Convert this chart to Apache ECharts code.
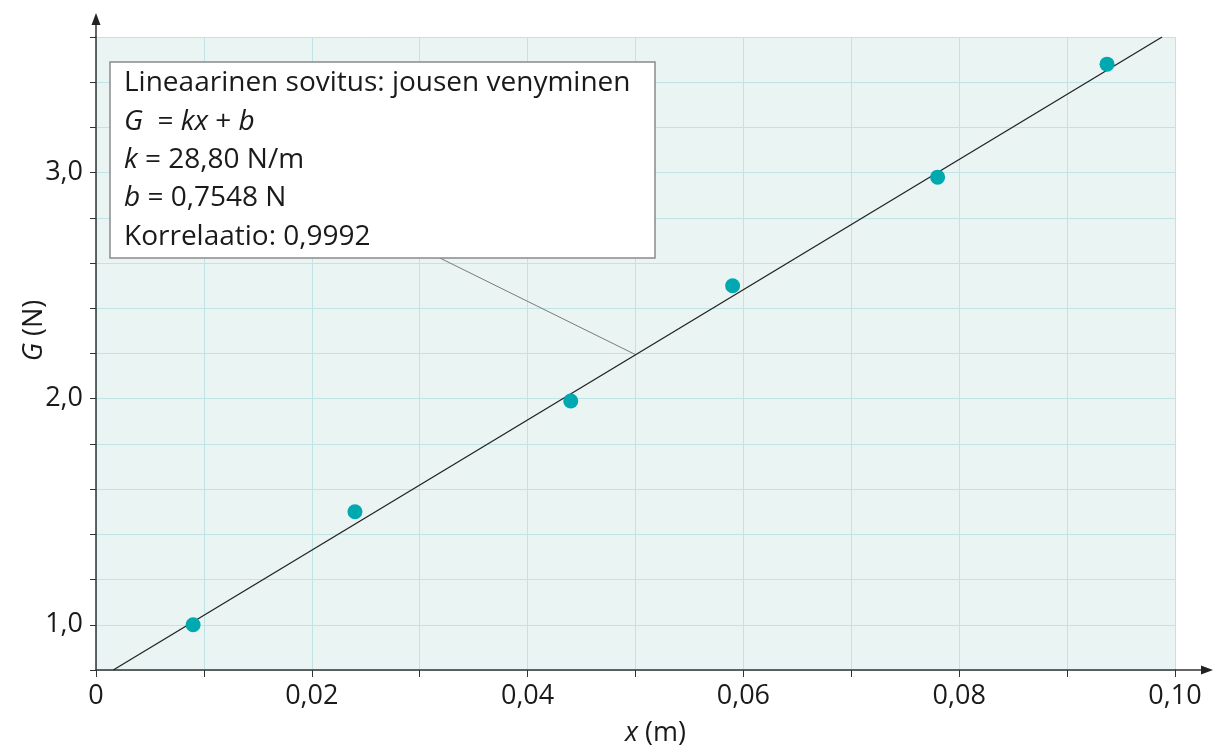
<!DOCTYPE html>
<html>
<head>
<meta charset="utf-8">
<script src="https://cdn.jsdelivr.net/npm/echarts@6/dist/echarts.min.js"></script>
<style>
html,body{margin:0;padding:0;background:#fff;}
#c{width:1216px;height:747px;}
</style>
</head>
<body>
<div id="c"></div>
<script>
// measured data points
const xValues = [0.009, 0.024, 0.044, 0.059, 0.078, 0.0937];
const gValues = [1.00, 1.50, 1.99, 2.50, 2.98, 3.48];
// fitted line end points (G = 28.80 x + 0.7548)
const fitX = [0.0016, 0.0988];
const fitG = [0.80, 3.60];
// leader line from info box to the fit line
const leaderX = [0.0318, 0.050];
const leaderG = [2.624, 2.195];
// axis settings
const xTicks = [0, 0.02, 0.04, 0.06, 0.08, 0.10];
const yTicks = [1.0, 2.0, 3.0];
const infoLines = [
  'Lineaarinen sovitus: jousen venyminen',
  '{i|G}  = {i|kx} + {i|b}',
  '{i|k} = 28,80 N/m',
  '{i|b} = 0,7548 N',
  'Korrelaatio: 0,9992'
];

const FONT = '"Open Sans", "Noto Sans", sans-serif';
const chart = echarts.init(document.getElementById('c'), null, {renderer: 'canvas'});

const fmtComma = (v, d) => v.toFixed(d).replace('.', ',');

chart.setOption({
  animation: false,
  backgroundColor: '#ffffff',
  grid: {
    left: 96, right: 41, top: 37, bottom: 77,
    containLabel: false, outerBoundsMode: 'none',
    show: true, backgroundColor: '#EAF4F3', borderWidth: 0
  },
  xAxis: {
    type: 'value', min: 0, max: 0.1, interval: 0.01,
    name: '{i|x} (m)', nameLocation: 'middle', nameGap: 50, nameMoveOverlap: false,
    nameTextStyle: {
      fontFamily: FONT, fontSize: 27, color: '#1a1a1a', padding: [0, 0, 0, 40],
      rich: {i: {fontFamily: FONT, fontSize: 27, fontStyle: 'italic', color: '#1a1a1a'}}
    },
    axisLine: {show: true, onZero: false, lineStyle: {color: '#333', width: 1.5}},
    axisTick: {show: true, length: 7, lineStyle: {color: '#333', width: 1}},
    axisLabel: {
      margin: 13, fontFamily: FONT, fontSize: 27, color: '#1a1a1a',
      formatter: v => {
        const hit = xTicks.find(t => Math.abs(t - v) < 1e-9);
        if (hit === undefined) return '';
        return hit === 0 ? '0' : fmtComma(hit, 2);
      }
    },
    splitLine: {show: true, lineStyle: {color: '#C0E3E6', width: 1}}
  },
  yAxis: {
    type: 'value', min: 0.8, max: 3.6, interval: 0.2,
    name: '{i|G} (N)', nameLocation: 'middle', nameGap: 48, nameRotate: 90, nameMoveOverlap: false,
    nameTextStyle: {
      fontFamily: FONT, fontSize: 27, color: '#1a1a1a', padding: [0, 0, 0, 46],
      rich: {i: {fontFamily: FONT, fontSize: 27, fontStyle: 'italic', color: '#1a1a1a'}}
    },
    axisLine: {show: true, onZero: false, lineStyle: {color: '#333', width: 1.5}},
    axisTick: {show: true, length: 6, lineStyle: {color: '#333', width: 1}},
    axisLabel: {
      margin: 13, fontFamily: FONT, fontSize: 27, color: '#1a1a1a',
      formatter: v => {
        const hit = yTicks.find(t => Math.abs(t - v) < 1e-9);
        return hit === undefined ? '' : fmtComma(hit, 1);
      }
    },
    splitLine: {show: true, lineStyle: {color: '#C0E3E6', width: 1}}
  },
  series: [
    {
      type: 'line', name: 'leader',
      data: leaderX.map((x, i) => [x, leaderG[i]]),
      symbol: 'none', lineStyle: {color: '#7a7a7a', width: 1}, z: 3, silent: true
    },
    {
      type: 'line', name: 'fit',
      data: fitX.map((x, i) => [x, fitG[i]]),
      symbol: 'none', lineStyle: {color: '#222', width: 1.3}, z: 4, silent: true
    },
    {
      type: 'scatter', name: 'data',
      data: xValues.map((x, i) => [x, gValues[i]]),
      symbolSize: 15, itemStyle: {color: '#00A9AF', opacity: 1}, z: 5
    }
  ],
  graphic: [
    // axis arrow extensions
    {type: 'line', shape: {x1: 1175, y1: 670, x2: 1204, y2: 670}, style: {stroke: '#333', lineWidth: 1.5}, z: 50},
    {type: 'polygon', shape: {points: [[1213, 670], [1201, 665.5], [1201, 674.5]]}, style: {fill: '#222'}, z: 50},
    {type: 'line', shape: {x1: 96, y1: 37, x2: 96, y2: 22}, style: {stroke: '#333', lineWidth: 1.5}, z: 50},
    {type: 'polygon', shape: {points: [[96, 13], [91.5, 25], [100.5, 25]]}, style: {fill: '#222'}, z: 50},
    // info box
    {type: 'rect', shape: {x: 110, y: 62, width: 545, height: 196},
     style: {fill: '#ffffff', stroke: '#8a8a8a', lineWidth: 1.5}, z: 60},
    {type: 'text', x: 124, y: 64, z: 61,
     style: {
       text: infoLines.join('\n'),
       font: '28px ' + FONT, fill: '#1a1a1a', lineHeight: 38.4,
       rich: {i: {fontFamily: FONT, fontSize: 28, fontStyle: 'italic', fill: '#1a1a1a', lineHeight: 38.4}}
     }}
  ]
});
</script>
</body>
</html>
